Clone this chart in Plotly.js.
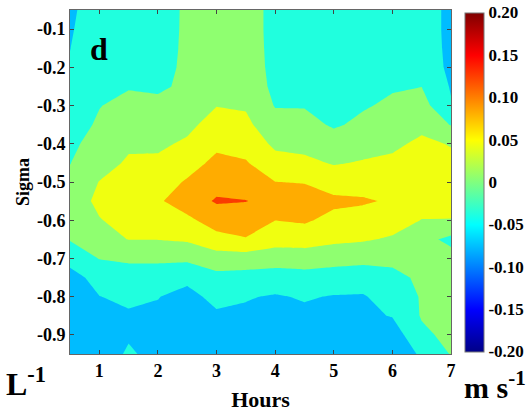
<!DOCTYPE html>
<html>
<head>
<meta charset="utf-8">
<script src="https://cdn.plot.ly/plotly-3.0.1.min.js"></script>
<style>html,body{margin:0;padding:0;background:#fff;}#chart{width:530px;height:413px;}</style>
</head>
<body>
<div id="chart"></div>
<script>
// Hours (x grid) and Sigma (y grid)
var hours = [0.5, 1.0, 1.5, 2.0, 2.5, 3.0, 3.5, 4.0, 4.5, 5.0, 5.5, 6.0, 6.5, 7.0];
var sigma = [-0.95, -0.90, -0.85, -0.80, -0.75, -0.70, -0.65, -0.60, -0.55, -0.50,
             -0.45, -0.40, -0.35, -0.30, -0.25, -0.20, -0.15, -0.10, -0.05];
// velocity anomaly (m s^-1), one row per sigma level
var velocity = [
  [-0.092,-0.085,-0.054,-0.074,-0.085,-0.082,-0.080,-0.085,-0.085,-0.082,-0.080,-0.074,-0.057,-0.0176],
  [-0.090,-0.077,-0.065,-0.069,-0.080,-0.073,-0.073,-0.078,-0.076,-0.075,-0.074,-0.081,-0.028,-0.010],
  [-0.088,-0.069,-0.066,-0.065,-0.075,-0.065,-0.066,-0.070,-0.0675,-0.069,-0.068,-0.058,-0.017,-0.012],
  [-0.085,-0.061,-0.050,-0.059,-0.070,-0.051,-0.0576,-0.063,-0.057,-0.062,-0.063,-0.044,-0.017,-0.010],
  [-0.080,-0.041,-0.034,-0.037,-0.052,-0.031,-0.034,-0.040,-0.034,-0.039,-0.042,-0.030,-0.0135,-0.008],
  [-0.041,-0.019,-0.015,-0.014,-0.012,0.0015,0.001,0.000,-0.001,-0.005,-0.0086,-0.011,-0.010,-0.005],
  [-0.018,0.004,0.021,0.021,0.025,0.047,0.0576,0.035,0.038,0.028,0.024,0.0157,-0.0073,-0.030],
  [-0.007,0.018,0.033,0.038,0.0515,0.078,0.080,0.0605,0.065,0.049,0.045,0.036,0.019,0.019],
  [0.000,0.028,0.045,0.055,0.080,0.104,0.101,0.088,0.080,0.068,0.064,0.056,0.035,0.030],
  [-0.010,0.021,0.035,0.042,0.064,0.086,0.082,0.0605,0.058,0.043,0.045,0.042,0.042,0.032],
  [-0.021,0.005,0.025,0.027,0.045,0.069,0.063,0.035,0.029,0.017,0.023,0.027,0.037,0.028],
  [-0.027,-0.007,0.014,0.013,0.026,0.052,0.046,0.012,0.008,-0.004,0.005,0.013,0.027,0.018],
  [-0.033,-0.016,0.001,-0.001,0.0105,0.036,0.029,-0.0066,-0.009,-0.024,-0.013,-0.0007,0.0113,-0.022],
  [-0.040,-0.021,-0.012,-0.0155,-0.003,0.019,0.016,-0.022,-0.022,-0.025,-0.023,-0.0145,-0.0048,-0.057],
  [-0.049,-0.027,-0.022,-0.023,-0.0165,0.012,0.013,-0.0316,-0.026,-0.029,-0.027,-0.023,-0.0205,-0.063],
  [-0.057,-0.033,-0.027,-0.027,-0.016,0.007,0.011,-0.036,-0.031,-0.033,-0.032,-0.029,-0.030,-0.070],
  [-0.0605,-0.040,-0.032,-0.0315,-0.015,0.004,0.010,-0.038,-0.036,-0.037,-0.036,-0.034,-0.037,-0.070],
  [-0.063,-0.042,-0.037,-0.036,-0.014,0.002,0.010,-0.040,-0.040,-0.041,-0.0405,-0.040,-0.044,-0.068],
  [-0.065,-0.045,-0.042,-0.040,-0.013,0.000,0.010,-0.040,-0.045,-0.045,-0.045,-0.045,-0.050,-0.065]
];
var xTickVals = [1, 2, 3, 4, 5, 6, 7];
var xTickText = ["1", "2", "3", "4", "5", "6", "7"];
var yTickVals = [-0.9, -0.8, -0.7, -0.6, -0.5, -0.4, -0.3, -0.2, -0.1];
var yTickText = ["-0.9", "-0.8", "-0.7", "-0.6", "-0.5", "-0.4", "-0.3", "-0.2", "-0.1"];
var cbTickVals = [-0.2, -0.15, -0.1, -0.05, 0, 0.05, 0.1, 0.15, 0.2];
var cbTickText = ["-0.20", "-0.15", "-0.10", "-0.05", "0", "0.05", "0.10", "0.15", "0.20"];

var serif = "Liberation Serif, Times New Roman, serif";
var jet = [[0, "rgb(0,0,135)"], [0.125, "rgb(0,0,255)"], [0.375, "rgb(0,255,255)"],
           [0.625, "rgb(255,255,0)"], [0.875, "rgb(255,0,0)"], [1, "rgb(128,0,0)"]];
// discrete band colours (band midpoints -0.08, -0.04, 0, 0.04, 0.08, 0.12)
var bands = [[0, "rgb(0,188,255)"], [0.2, "rgb(32,255,222)"], [0.4, "rgb(143,255,112)"],
             [0.6, "rgb(240,255,16)"], [0.8, "rgb(255,172,0)"], [1, "rgb(250,60,0)"]];

var contour = {
  type: "contour", x: hours, y: sigma, z: velocity,
  autocontour: false,
  contours: {start: -0.06, end: 0.10, size: 0.04, coloring: "fill", showlines: false},
  line: {width: 0, smoothing: 0},
  colorscale: bands, showscale: false, hoverinfo: "skip"
};
var cbar = {
  type: "scatter", mode: "markers", x: [-10], y: [-10], hoverinfo: "skip", showlegend: false,
  marker: {
    color: [0], cmin: -0.2, cmax: 0.2, colorscale: jet, opacity: 0, size: 1, showscale: true,
    colorbar: {
      thicknessmode: "pixels", thickness: 19, lenmode: "pixels", len: 339,
      x: 1.036, xanchor: "left", xpad: 0, y: 0.5, yanchor: "middle", ypad: 0,
      outlinewidth: 1, outlinecolor: "#777",
      tickvals: cbTickVals, ticktext: cbTickText, ticks: "",
      tickfont: {family: serif, size: 17, color: "#000", weight: "bold"}
    }
  }
};
var axisCommon = {
  showgrid: false, zeroline: false, showline: true, linecolor: "#666", linewidth: 1,
  mirror: "ticks", ticks: "inside", ticklen: 4, tickcolor: "#444",
  tickfont: {family: serif, size: 18, color: "#000", weight: "bold"}
};
var layout = {
  width: 530, height: 413,
  margin: {l: 70, r: 75, t: 10, b: 59},
  paper_bgcolor: "#fff", plot_bgcolor: "#fff",
  font: {family: serif, color: "#000", weight: "bold"},
  showlegend: false,
  xaxis: Object.assign({}, axisCommon, {
    range: [0.5, 7], tickvals: xTickVals, ticktext: xTickText,
    title: {text: "Hours", font: {family: serif, size: 22, color: "#000", weight: "bold"}, standoff: 12}
  }),
  yaxis: Object.assign({}, axisCommon, {
    range: [-0.95, -0.05], tickvals: yTickVals, ticktext: yTickText,
    title: {text: "Sigma", font: {family: serif, size: 18, color: "#000", weight: "bold"}, standoff: 2}
  }),
  annotations: [
    {text: "d", xref: "paper", yref: "paper", x: 0.047, y: 0.887, xanchor: "left", yanchor: "middle",
     showarrow: false, font: {family: serif, size: 32, color: "#000", weight: "bold"}},
    {text: "L<sup>-1</sup>", xref: "paper", yref: "paper", x: -0.174, y: -0.08, xanchor: "left", yanchor: "middle",
     showarrow: false, font: {family: serif, size: 32, color: "#000", weight: "bold"}},
    {text: "m s<sup>-1</sup>", xref: "paper", yref: "paper", x: 1.028, y: -0.09, xanchor: "left", yanchor: "middle",
     showarrow: false, font: {family: serif, size: 30, color: "#000", weight: "bold"}}
  ]
};
Plotly.newPlot("chart", [contour, cbar], layout, {displayModeBar: false, staticPlot: true});
</script>
</body>
</html>
